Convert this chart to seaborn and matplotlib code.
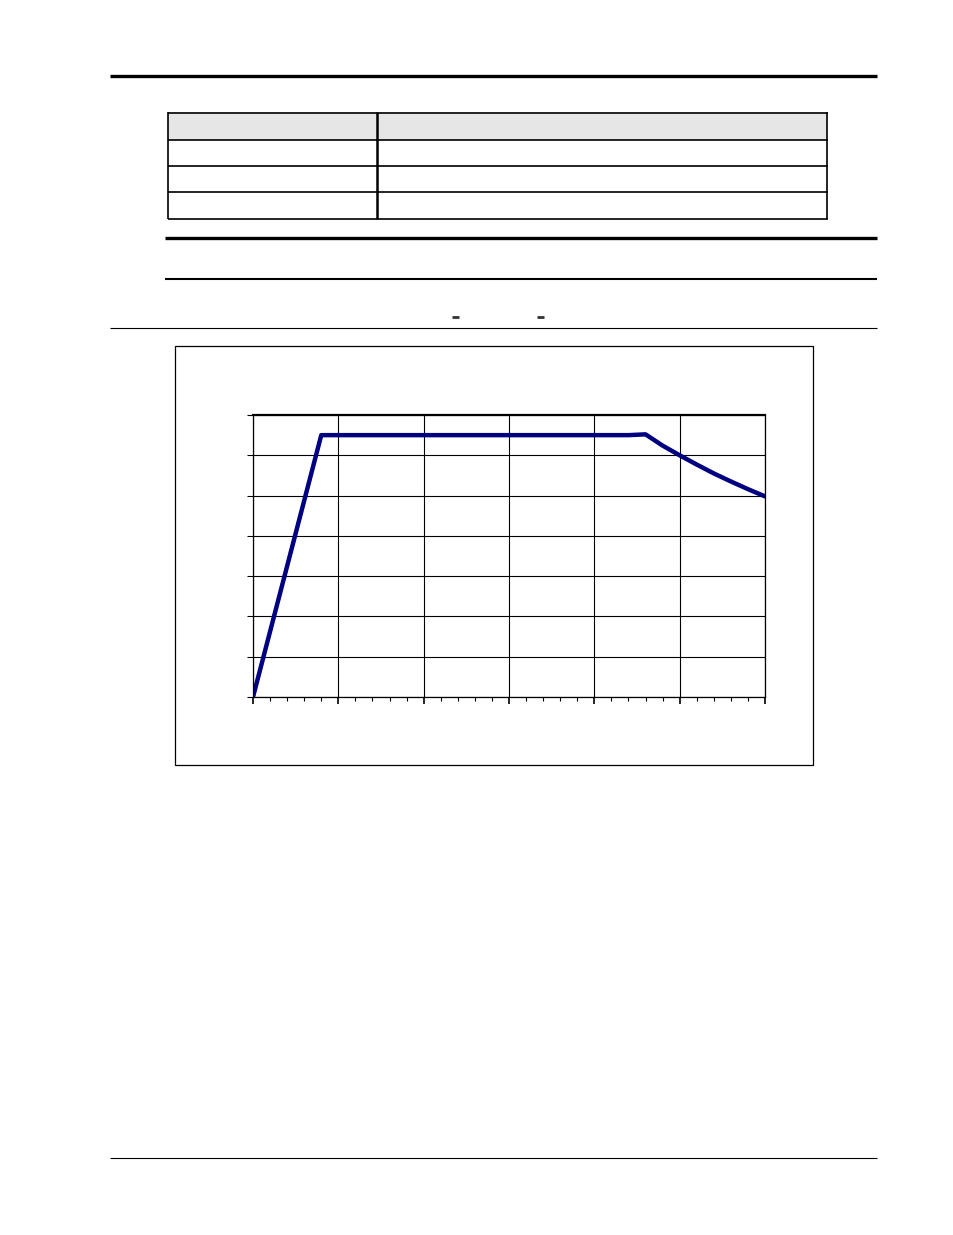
import matplotlib
matplotlib.use("Agg")
import matplotlib.pyplot as plt
from matplotlib.lines import Line2D
from matplotlib.patches import Rectangle
import seaborn as sns
import pandas as pd
import numpy as np

# ---- data ----
speed = [0.0, 0.8, 1.6, 2.4, 3.2, 4.4, 4.6, 4.8, 5.0, 5.2, 5.4, 5.6, 5.8, 6.0]
output = [0.0, 6.5, 6.5, 6.5, 6.5, 6.5, 6.52, 6.24, 6.0, 5.77, 5.55, 5.35, 5.16, 4.98]
x_major = [0, 1, 2, 3, 4, 5, 6]
y_major = [0, 1, 2, 3, 4, 5, 6, 7]

W, H = 954, 1235
sns.set_theme(style="white")
plt.rcParams['font.family'] = ['DejaVu Sans']
fig = plt.figure(figsize=(W / 100, H / 100), dpi=100)

def fx(px):
    return px / W

def fy(py):
    return 1 - py / H

def hline(x0, x1, y, lw, color="black"):
    fig.add_artist(Line2D([fx(x0), fx(x1)], [fy(y), fy(y)], lw=lw, color=color,
                          transform=fig.transFigure, solid_capstyle="butt"))

def vline(x, y0, y1, lw, color="black"):
    fig.add_artist(Line2D([fx(x), fx(x)], [fy(y0), fy(y1)], lw=lw, color=color,
                          transform=fig.transFigure, solid_capstyle="butt"))

# page rules
hline(110, 877, 76, 2.4)
hline(165, 877, 237.5, 2.4)
hline(165, 877, 278.5, 1.5)
hline(110, 877, 328, 0.8)
hline(110, 877, 1158, 0.8)
hline(452, 459, 317, 2.0, color="#333333")
hline(537, 544, 317, 2.0, color="#333333")

# table
fig.add_artist(Rectangle((fx(168), fy(140)), fx(827) - fx(168), fy(112) - fy(140),
                         transform=fig.transFigure, facecolor="#e6e6e6", edgecolor="none"))
for yy in [112.5, 140, 166, 192, 218.5]:
    hline(167.5, 827.5, yy, 1.2)
vline(168, 112, 219, 1.2)
vline(827, 112, 219, 1.2)
vline(376.5, 112, 219, 1.8)

# chart frame
fig.add_artist(Rectangle((fx(175.5), fy(764.5)), fx(812.5) - fx(175.5), fy(345.5) - fy(764.5),
                         transform=fig.transFigure, facecolor="none", edgecolor="black", lw=0.9))

# plot axes
ax = fig.add_axes([fx(253), fy(697), fx(765) - fx(253), fy(415) - fy(697)])
df = pd.DataFrame({"speed": speed, "output": output})
sns.lineplot(data=df, x="speed", y="output", ax=ax, color="#000080", lw=3.2, legend=False)
ax.set_xlim(0, 6)
ax.set_ylim(0, 7)
ax.set_xticks(x_major)
ax.set_yticks(y_major)
ax.set_xticks(np.arange(0, 6.01, 0.2), minor=True)
ax.set_xticklabels([])
ax.set_yticklabels([])
ax.set_xlabel("")
ax.set_ylabel("")
ax.grid(True, which="major", color="black", lw=0.8)
for s in ax.spines.values():
    s.set_color("black")
    s.set_linewidth(0.9)
ax.spines["top"].set_linewidth(1.6)
ax.tick_params(axis="x", which="major", direction="out", length=5, width=1.2, bottom=True, color="black")
ax.tick_params(axis="x", which="minor", direction="out", length=3, width=0.8, bottom=True, color="black")
ax.tick_params(axis="y", which="major", direction="out", length=4, width=0.8, left=True, color="black")
ax.set_facecolor("white")

fig.savefig("out.png", dpi=100)
